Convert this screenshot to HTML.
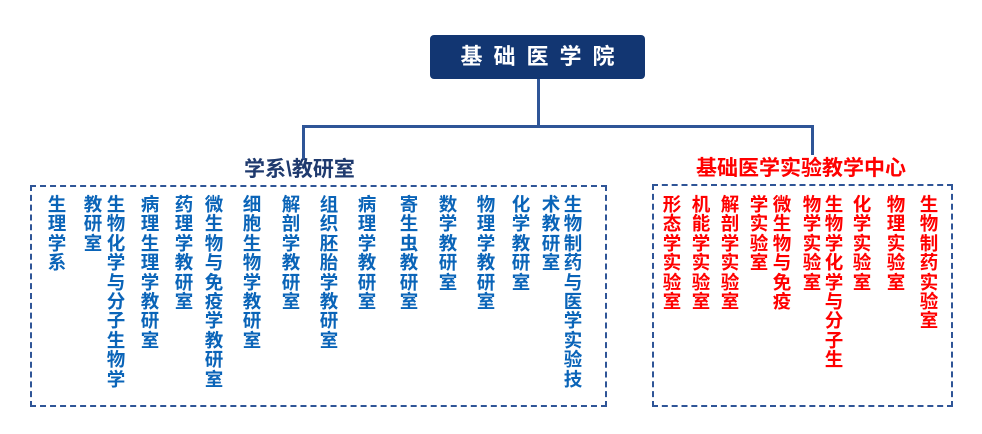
<!DOCTYPE html>
<html><head><meta charset="utf-8"><style>
body{margin:0;width:982px;height:434px;background:#fff;position:relative;overflow:hidden;font-family:"Liberation Sans","Noto Sans CJK SC",sans-serif;font-weight:bold}
.a{position:absolute}
.c{position:absolute;top:195px;width:20px;font-size:18.5px;line-height:19.4px;text-align:center;word-break:break-all;color:#0a64b8}
.r{color:#ff0000}
</style></head><body>
<div class="a" style="left:430px;top:35px;width:215px;height:44px;background:#123672;border-radius:4px;color:#fff;font-size:22px;line-height:44px;text-align:center;letter-spacing:11px;text-indent:11px">基础医学院</div>
<div class="a" style="left:537px;top:79px;width:3px;height:49px;background:#2f5597"></div>
<div class="a" style="left:302px;top:125px;width:512px;height:3px;background:#2f5597"></div>
<div class="a" style="left:302px;top:125px;width:3px;height:35px;background:#2f5597"></div>
<div class="a" style="left:811px;top:125px;width:3px;height:30px;background:#2f5597"></div>
<div class="a" style="left:244px;top:157px;font-size:21px;line-height:26px;color:#1f3a6e">学系\教研室</div>
<div class="a" style="left:696px;top:156px;font-size:21px;line-height:26px;color:#ff0000">基础医学实验教学中心</div>
<div class="a" style="left:30px;top:185px;width:573px;height:218px;border:2px dashed #2f5597"></div>
<div class="a" style="left:652px;top:184px;width:297px;height:219px;border:2px dashed #2f5597"></div>
<div class="c" style="left:47px">生理学系</div>
<div class="c" style="left:83px">教研室</div>
<div class="c" style="left:106px">生物化学与分子生物学</div>
<div class="c" style="left:140px">病理生理学教研室</div>
<div class="c" style="left:174px">药理学教研室</div>
<div class="c" style="left:204px">微生物与免疫学教研室</div>
<div class="c" style="left:242px">细胞生物学教研室</div>
<div class="c" style="left:281px">解剖学教研室</div>
<div class="c" style="left:319px">组织胚胎学教研室</div>
<div class="c" style="left:357px">病理学教研室</div>
<div class="c" style="left:399px">寄生虫教研室</div>
<div class="c" style="left:438px">数学教研室</div>
<div class="c" style="left:476px">物理学教研室</div>
<div class="c" style="left:511px">化学教研室</div>
<div class="c" style="left:541px">术教研室</div>
<div class="c" style="left:563px">生物制药与医学实验技</div>
<div class="c r" style="left:662px">形态学实验室</div>
<div class="c r" style="left:691px">机能学实验室</div>
<div class="c r" style="left:720px">解剖学实验室</div>
<div class="c r" style="left:749px">学实验室</div>
<div class="c r" style="left:772px">微生物与免疫</div>
<div class="c r" style="left:802px">物学实验室</div>
<div class="c r" style="left:824px">生物学化学与分子生</div>
<div class="c r" style="left:852px">化学实验室</div>
<div class="c r" style="left:886px">物理实验室</div>
<div class="c r" style="left:919px">生物制药实验室</div>
</body></html>
